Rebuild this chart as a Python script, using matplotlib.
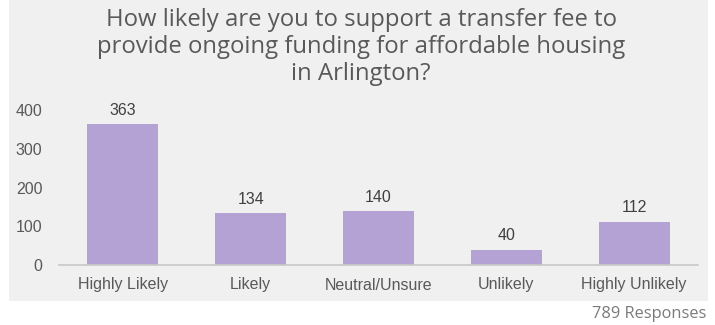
import matplotlib.pyplot as plt
from matplotlib.patches import Rectangle

categories = ['Highly Likely', 'Likely', 'Neutral/Unsure', 'Unlikely', 'Highly Unlikely']
counts = [363, 134, 140, 40, 112]
yticks = [0, 100, 200, 300, 400]
title = 'How likely are you to support a transfer fee to\nprovide ongoing funding for affordable housing\nin Arlington?'
footer = '789 Responses'

fig = plt.figure(figsize=(7.15, 3.25), dpi=100)
fig.patch.set_facecolor('white')

# light gray panel behind the chart
fig.patches.append(Rectangle((9 / 715, 24 / 325), 699 / 715, 301 / 325,
                             transform=fig.transFigure, facecolor='#f0f0f0',
                             edgecolor='none', zorder=0))

ax = fig.add_axes([59 / 715, 60 / 325, 639 / 715, 155 / 325])
ax.set_zorder(2)
ax.set_facecolor('none')

x = range(len(categories))
bars = ax.bar(x, counts, width=0.555, color='#b3a2d3', zorder=2)
for xi, v in zip(x, counts):
    ax.text(xi, v + 16, str(v), ha='center', va='bottom', fontsize=11.5,
            color='#404040', family='Liberation Sans', clip_on=False)

ax.set_xlim(-0.5, len(categories) - 0.5)
ax.set_ylim(0, 400)
ax.set_yticks(yticks)
ax.set_xticks(list(x))
ax.set_xticklabels(categories)
ax.tick_params(length=0, labelsize=11.5, colors='#595959', pad=9)
ax.tick_params(axis='y', pad=12)
for lbl in ax.get_xticklabels() + ax.get_yticklabels():
    lbl.set_family('Liberation Sans')

for s in ['top', 'right', 'left']:
    ax.spines[s].set_visible(False)
ax.spines['bottom'].set_color('#c8c8c8')
ax.spines['bottom'].set_linewidth(1.2)

fig.text(361 / 715, 1 - 47 / 325, title, ha='center', va='center',
         fontsize=17.2, color='#595959', family='Open Sans', linespacing=1.18,
         zorder=3)
fig.text(706 / 715, 1 - 314 / 325, footer, ha='right', va='center',
         fontsize=11.8, color='#7a7a7a', family='Open Sans', zorder=3)

fig.savefig('out.png', dpi=100)
